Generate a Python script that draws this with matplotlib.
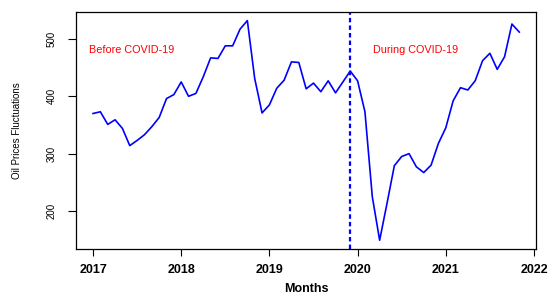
import numpy as np
import pandas as pd
import matplotlib
matplotlib.use("Agg")
import matplotlib.pyplot as plt

# monthly oil price index, Jan 2017 .. Nov 2021
prices = [370, 373, 351, 359, 344, 314, 323, 333, 347, 363, 396, 403,   # 2017
          425, 400, 405, 434, 467, 466, 488, 488, 517, 532, 431, 371,   # 2018
          385, 414, 428, 460, 459, 413, 423, 408, 427, 406, 425, 444,   # 2019
          427, 373, 225, 149, 213, 279, 295, 300, 277, 267, 280, 318,   # 2020
          345, 392, 415, 411, 427, 462, 475, 447, 469, 526, 512]        # 2021
start_year = 2017
covid_start = 2019 + 11 / 12
year_ticks = [2017, 2018, 2019, 2020, 2021, 2022]
price_ticks = [200, 300, 400, 500]

t = start_year + np.arange(len(prices)) / 12

plt.rcParams['font.family'] = ['Liberation Sans', 'DejaVu Sans']

fig = plt.figure(figsize=(5.57, 2.96), dpi=100)
ax = fig.add_axes([76 / 557, 1 - 249 / 296, 460 / 557, 237 / 296])

ax.plot(t, prices, color='#0000ff', linewidth=1.2)
ax.axvline(covid_start, color='#0000ff', linewidth=1.6, linestyle=(0, (2, 1.4)))

ax.text(2016.955, 480, 'Before COVID-19', color='#ff0000', fontsize=7.8, va='center')
ax.text(2020.17, 480, 'During COVID-19', color='#ff0000', fontsize=7.8, va='center')

ax.set_xlim(2016.807, 2022.023)
ax.set_ylim(133.7, 547)
ax.set_xticks(year_ticks)
ax.set_yticks(price_ticks)
ax.set_yticklabels([str(v) for v in price_ticks], rotation=90, va='center', fontsize=7)
ax.tick_params(axis='x', labelsize=9, length=5, pad=6)
ax.tick_params(axis='y', length=6, pad=8)
for lbl in ax.get_xticklabels():
    lbl.set_fontweight('bold')

ax.set_xlabel('Months', fontsize=9, fontweight='bold', labelpad=5)
ax.set_ylabel('Oil Prices Fluctuations', fontsize=7, labelpad=18)
for s in ax.spines.values():
    s.set_linewidth(0.9)

fig.savefig('out.png', dpi=100)
